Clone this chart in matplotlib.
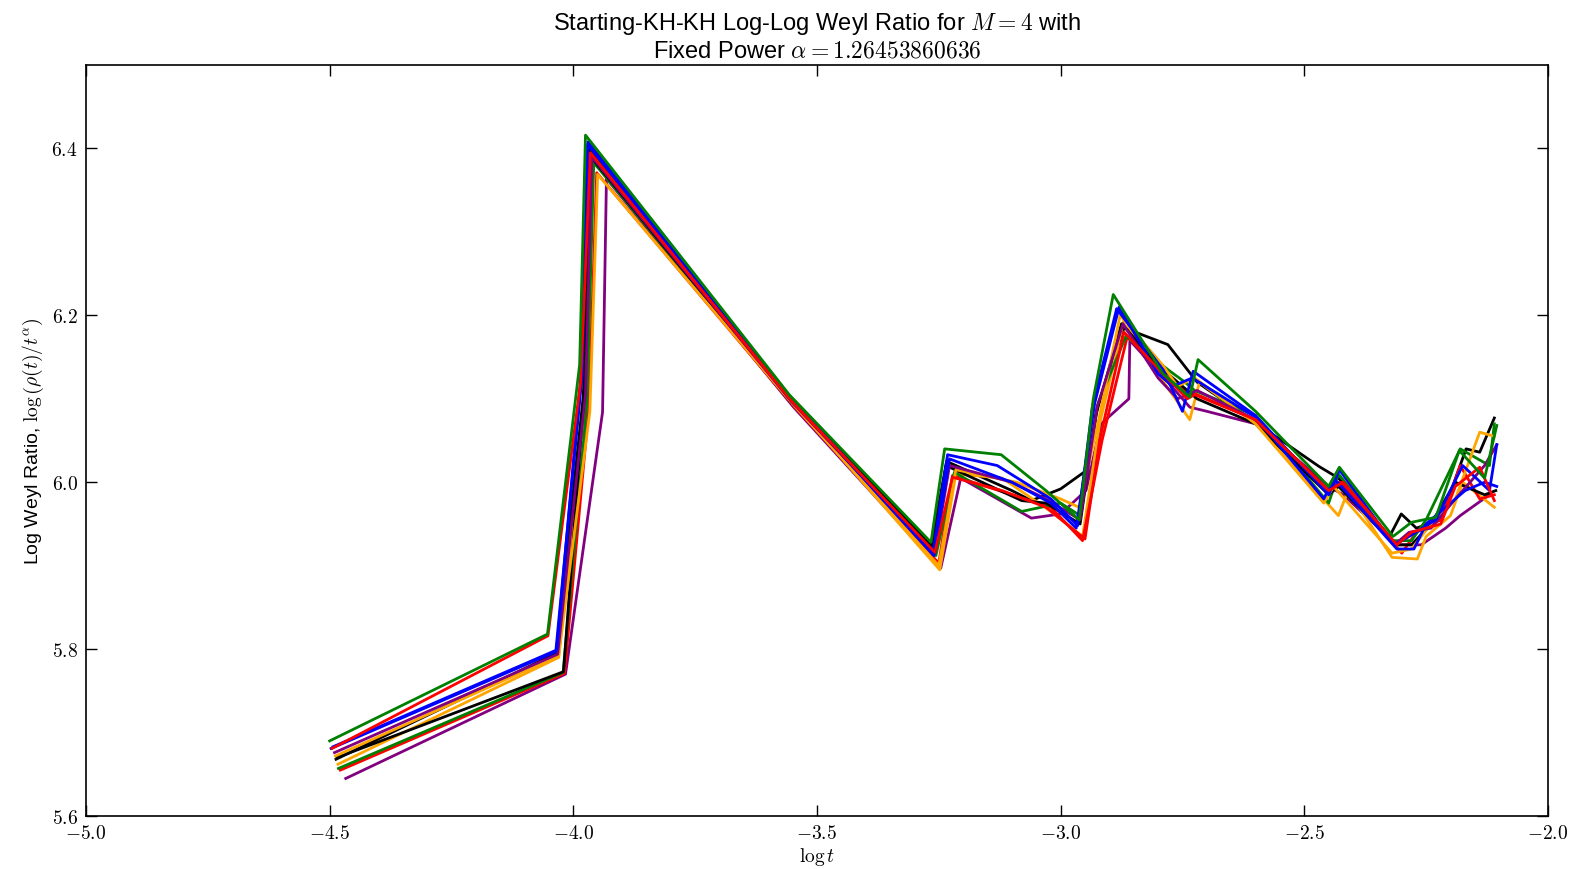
import numpy as np
import matplotlib
matplotlib.use("Agg")
import matplotlib.pyplot as plt
from matplotlib.ticker import FuncFormatter, MultipleLocator

plt.rcParams['mathtext.fontset'] = 'cm'
plt.rcParams['font.family'] = ['Liberation Sans', 'DejaVu Sans']

# log t / log Weyl ratio for each run
green_a_x = [-4.500, -4.053, -3.987, -3.975, -3.557, -3.266, -3.238, -3.122, -3.030, -2.962, -2.933, -2.892,
             -2.790, -2.735, -2.718, -2.600, -2.450, -2.428, -2.318, -2.280, -2.230, -2.182, -2.130, -2.105]
green_a_y = [5.690, 5.818, 6.141, 6.416, 6.105, 5.928, 6.040, 6.033, 5.990, 5.955, 6.100, 6.225,
             6.130, 6.102, 6.147, 6.085, 5.995, 6.018, 5.935, 5.952, 5.958, 6.038, 6.005, 6.068]

red_a_x = [-4.495, -4.052, -3.985, -3.965, -3.553, -3.258, -3.222, -3.120, -3.030, -2.950, -2.920, -2.870,
           -2.790, -2.740, -2.725, -2.600, -2.450, -2.420, -2.310, -2.280, -2.220, -2.190, -2.140, -2.110]
red_a_y = [5.681, 5.816, 6.120, 6.395, 6.098, 5.916, 6.006, 5.990, 5.970, 5.932, 6.050, 6.180,
           6.130, 6.100, 6.105, 6.075, 5.990, 6.000, 5.925, 5.940, 5.950, 5.995, 6.018, 5.978]

blue_a_x = [-4.497, -4.036, -3.982, -3.970, -3.556, -3.262, -3.232, -3.130, -3.020, -2.965, -2.935, -2.885,
            -2.790, -2.750, -2.728, -2.600, -2.450, -2.428, -2.315, -2.285, -2.230, -2.175, -2.120, -2.105]
blue_a_y = [5.681, 5.797, 6.127, 6.408, 6.103, 5.915, 6.033, 6.020, 5.980, 5.948, 6.090, 6.208,
            6.135, 6.085, 6.133, 6.080, 5.985, 6.015, 5.925, 5.935, 5.955, 6.020, 5.990, 6.045]

blue_b_x = [-4.493, -4.034, -3.984, -3.971, -3.555, -3.260, -3.228, -3.100, -3.020, -2.968, -2.930, -2.880,
            -2.800, -2.770, -2.730, -2.600, -2.460, -2.440, -2.310, -2.275, -2.250, -2.170, -2.130, -2.105]
blue_b_y = [5.683, 5.799, 6.130, 6.405, 6.101, 5.912, 6.028, 6.000, 5.975, 5.945, 6.095, 6.210,
            6.130, 6.115, 6.125, 6.078, 5.980, 6.005, 5.920, 5.920, 5.950, 5.990, 6.000, 5.995]

black_a_x = [-4.487, -4.035, -3.978, -3.967, -3.555, -3.265, -3.234, -3.100, -3.060, -3.000, -2.945, -2.925,
             -2.870, -2.780, -2.720, -2.470, -2.430, -2.325, -2.301, -2.270, -2.220, -2.168, -2.140, -2.110]
black_a_y = [5.668, 5.795, 6.111, 6.399, 6.100, 5.925, 6.025, 5.990, 5.978, 5.992, 6.015, 6.090,
             6.185, 6.165, 6.120, 6.019, 6.005, 5.935, 5.962, 5.945, 5.955, 6.040, 6.036, 6.077]

black_b_x = [-4.485, -4.020, -3.980, -3.964, -3.552, -3.262, -3.235, -3.080, -3.030, -2.960, -2.928, -2.875,
             -2.800, -2.740, -2.720, -2.600, -2.450, -2.430, -2.310, -2.280, -2.240, -2.190, -2.130, -2.107]
black_b_y = [5.670, 5.773, 6.090, 6.390, 6.095, 5.922, 6.020, 5.978, 5.975, 5.950, 6.080, 6.190,
             6.140, 6.110, 6.100, 6.070, 5.985, 5.995, 5.925, 5.925, 5.950, 6.000, 5.985, 5.990]

orange_a_x = [-4.483, -4.030, -3.975, -3.960, -3.552, -3.248, -3.215, -3.120, -3.020, -2.955, -2.920, -2.870,
              -2.800, -2.735, -2.715, -2.600, -2.430, -2.410, -2.320, -2.268, -2.250, -2.200, -2.175, -2.110]
orange_a_y = [5.662, 5.790, 6.100, 6.387, 6.097, 5.895, 6.010, 6.005, 5.965, 5.935, 6.070, 6.195,
              6.130, 6.075, 6.120, 6.070, 5.960, 5.990, 5.910, 5.908, 5.935, 5.960, 6.000, 5.970]

orange_b_x = [-4.488, -4.030, -3.966, -3.950, -3.550, -3.250, -3.215, -3.090, -3.000, -2.962, -2.920, -2.878,
              -2.790, -2.760, -2.725, -2.600, -2.460, -2.440, -2.320, -2.280, -2.240, -2.190, -2.140, -2.110]
orange_b_y = [5.672, 5.792, 6.085, 6.369, 6.094, 5.900, 6.015, 6.000, 5.980, 5.970, 6.080, 6.200,
              6.140, 6.115, 6.125, 6.070, 5.975, 5.995, 5.915, 5.920, 5.950, 5.980, 6.060, 6.055]

green_b_x = [-4.482, -4.021, -3.972, -3.958, -3.553, -3.256, -3.218, -3.080, -3.000, -2.960, -2.923, -2.866,
             -2.780, -2.745, -2.725, -2.600, -2.450, -2.430, -2.320, -2.280, -2.250, -2.180, -2.120, -2.110]
green_b_y = [5.657, 5.772, 6.096, 6.383, 6.097, 5.912, 6.012, 5.965, 5.975, 5.960, 6.095, 6.175,
             6.135, 6.120, 6.110, 6.080, 5.975, 6.010, 5.930, 5.930, 5.955, 6.040, 6.020, 6.070]

red_b_x = [-4.478, -4.018, -3.968, -3.952, -3.550, -3.250, -3.222, -3.100, -3.020, -2.955, -2.915, -2.863,
           -2.790, -2.745, -2.720, -2.600, -2.450, -2.425, -2.300, -2.270, -2.220, -2.180, -2.140, -2.110]
red_b_y = [5.655, 5.771, 6.090, 6.371, 6.093, 5.903, 6.008, 5.985, 5.970, 5.930, 6.050, 6.175,
           6.130, 6.110, 6.105, 6.075, 5.990, 6.000, 5.915, 5.940, 5.955, 6.020, 5.980, 5.985]

purple_a_x = [-4.467, -4.016, -3.940, -3.932, -3.548, -3.246, -3.205, -3.060, -3.000, -2.948, -2.917, -2.860,
              -2.858, -2.780, -2.735, -2.700, -2.600, -2.450, -2.420, -2.310, -2.260, -2.210, -2.180, -2.120]
purple_a_y = [5.645, 5.770, 6.084, 6.364, 6.090, 5.897, 6.005, 5.957, 5.962, 5.990, 6.070, 6.100,
              6.170, 6.120, 6.090, 6.085, 6.070, 5.995, 5.985, 5.925, 5.925, 5.945, 5.960, 5.985]

purple_b_x = [-4.490, -4.032, -3.975, -3.962, -3.553, -3.258, -3.228, -3.100, -3.030, -2.960, -2.925, -2.872,
              -2.800, -2.760, -2.720, -2.600, -2.450, -2.430, -2.315, -2.285, -2.240, -2.190, -2.130, -2.105]
purple_b_y = [5.676, 5.794, 6.105, 6.390, 6.097, 5.915, 6.020, 6.000, 5.980, 5.955, 6.090, 6.190,
              6.125, 6.100, 6.110, 6.075, 5.990, 6.000, 5.925, 5.940, 5.945, 5.980, 6.020, 6.045]

runs = [
    (black_a_x, black_a_y, 'black'),
    (purple_a_x, purple_a_y, 'purple'),
    (orange_a_x, orange_a_y, 'orange'),
    (red_b_x, red_b_y, 'red'),
    (green_b_x, green_b_y, 'green'),
    (black_b_x, black_b_y, 'black'),
    (orange_b_x, orange_b_y, 'orange'),
    (purple_b_x, purple_b_y, 'purple'),
    (blue_b_x, blue_b_y, 'blue'),
    (blue_a_x, blue_a_y, 'blue'),
    (red_a_x, red_a_y, 'red'),
    (green_a_x, green_a_y, 'green'),
]

fig = plt.figure(figsize=(15.72, 8.70), dpi=100)
ax = fig.add_axes([0.0547, 0.0609, 0.9300, 0.8632])

for xs, ys, c in runs:
    ax.plot(xs, ys, color=c, lw=2.0)

ax.set_xlim(-5.0, -2.0)
ax.set_ylim(5.6, 6.5)
ax.xaxis.set_major_locator(MultipleLocator(0.5))
ax.yaxis.set_major_locator(MultipleLocator(0.2))
fmt = FuncFormatter(lambda v, p: r'$%.1f$' % v)
ax.xaxis.set_major_formatter(fmt)
ax.yaxis.set_major_formatter(fmt)
ax.tick_params(direction='in', length=8, width=1, top=True, right=True, labelsize=14, pad=6)
for s in ax.spines.values():
    s.set_linewidth(1.2)

ax.set_xlabel(r'$\log t$', fontsize=14, labelpad=2)
ax.set_ylabel(r'Log Weyl Ratio, $\log\left(\rho(t)/t^{\alpha}\right)$', fontsize=14)
ax.set_title('Starting-KH-KH Log-Log Weyl Ratio for $M = 4$ with\n'
             r'Fixed Power $\alpha = 1.26453860636$', fontsize=17)

fig.savefig('out.png', dpi=100)
